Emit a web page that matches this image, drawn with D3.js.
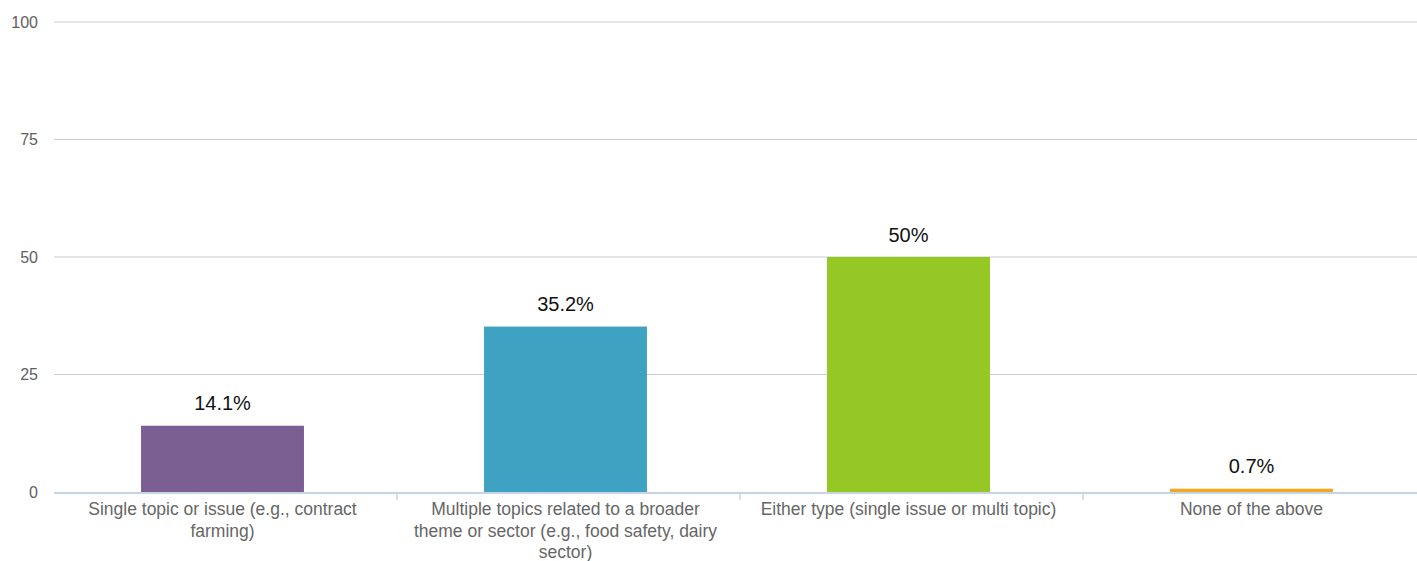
<!DOCTYPE html>
<html><head><meta charset="utf-8">
<script src="https://cdn.jsdelivr.net/npm/d3@7"></script>
<style>body{margin:0;background:#fff;font-family:"Liberation Sans",Arial,sans-serif;}</style>
</head><body><svg id="c" width="1417" height="561"></svg>
<script>
const categories = ["Single topic or issue (e.g., contract farming)","Multiple topics related to a broader theme or sector (e.g., food safety, dairy sector)","Either type (single issue or multi topic)","None of the above"];
const values = [14.1, 35.2, 50, 0.7];
const valueLabels = ["14.1%","35.2%","50%","0.7%"];
const colors = ["#7B5E92","#40A2C3","#95C825","#F5A623"];
const yTicks = [0,25,50,75,100];

(function(){
const svg = d3.select("#c");
const mLeft = 54, mRight = 1426, mTop = 22, mBottom = 492;
const x = d3.scaleBand().domain(categories).range([mLeft,mRight]).paddingInner(0).paddingOuter(0);
const y = d3.scaleLinear().domain([0,100]).range([mBottom,mTop]);
const off = -3;

// grid
svg.append("g").selectAll("line").data(yTicks.filter(d=>d>0)).join("line")
  .attr("x1",mLeft).attr("x2",1417).attr("y1",d=>y(d)).attr("y2",d=>y(d))
  .attr("stroke","#cccccc").attr("stroke-width",1.2);
// y labels
svg.append("g").selectAll("text").data(yTicks).join("text")
  .attr("x",38).attr("y",d=>y(d)).attr("dy","0.35em").attr("text-anchor","end")
  .attr("font-size",16).attr("fill","#606060").text(d=>d);

// bars
const bw = x.bandwidth()*0.475;
svg.append("g").selectAll("rect").data(values).join("rect")
  .attr("x",(d,i)=>x(categories[i])+x.bandwidth()/2-bw/2+off)
  .attr("width",bw)
  .attr("y",d=>y(d)).attr("height",d=>mBottom-y(d))
  .attr("fill",(d,i)=>colors[i]);

// axis line
svg.append("line").attr("x1",mLeft).attr("x2",1417).attr("y1",mBottom+1).attr("y2",mBottom+1)
  .attr("stroke","#c6d5e6").attr("stroke-width",2);
// ticks
svg.append("g").selectAll("line").data(categories.slice(1)).join("line")
  .attr("x1",d=>x(d)).attr("x2",d=>x(d)).attr("y1",mBottom).attr("y2",mBottom+8)
  .attr("stroke","#c6d5e6").attr("stroke-width",1.5);

// value labels
svg.append("g").selectAll("text").data(values).join("text")
  .attr("x",(d,i)=>x(categories[i])+x.bandwidth()/2+off)
  .attr("y",d=>y(d)-15.5).attr("text-anchor","middle")
  .attr("font-size",20).attr("fill","#111").text((d,i)=>valueLabels[i]);

// category labels with wrap
const maxW = 315;
categories.forEach((c,i)=>{
  const cx = x(c)+x.bandwidth()/2+off;
  const t = svg.append("text").attr("text-anchor","middle").attr("font-size",17.5).attr("fill","#666")
    .attr("x",cx).attr("y",515);
  const words = c.split(" ");
  let line = [];
  let ts = t.append("tspan").attr("x",cx).attr("dy",0);
  words.forEach(w=>{
    line.push(w); ts.text(line.join(" "));
    if (ts.node().getComputedTextLength() > maxW && line.length>1) {
      line.pop(); ts.text(line.join(" ")); line=[w];
      ts = t.append("tspan").attr("x",cx).attr("dy",21.5).text(w);
    }
  });
});
})();
</script></body></html>
